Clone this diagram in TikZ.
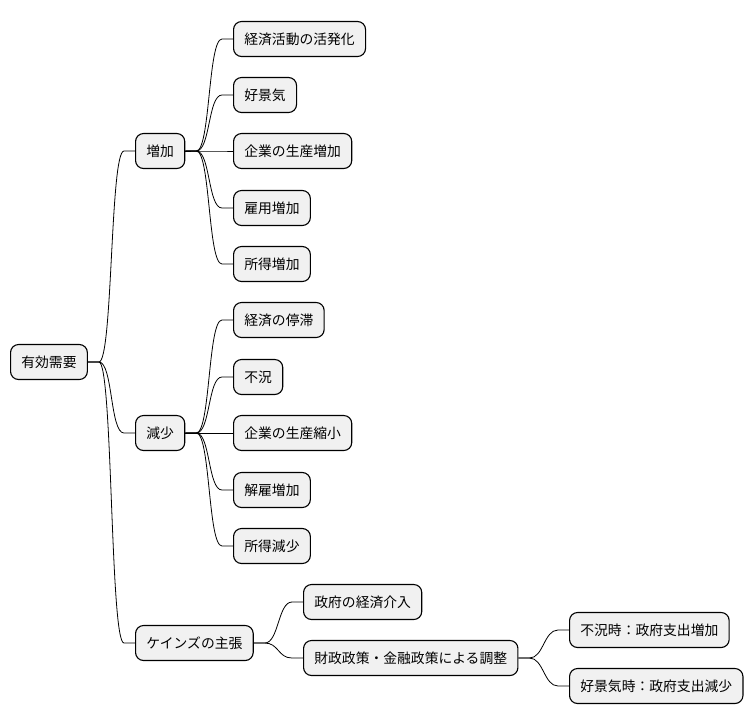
\documentclass[tikz,border=0pt]{standalone}
\usepackage{fontspec}
\setmainfont{Noto Sans CJK JP}
\usetikzlibrary{calc}
\definecolor{nodefill}{HTML}{F1F1F1}
\tikzset{
  mm/.style={draw=black, line width=1.1pt, fill=nodefill, rounded corners=8pt,
    anchor=west, minimum height=35pt, inner xsep=10.8pt, inner ysep=0pt,
    font=\fontsize{13.8pt}{16pt}\selectfont},
  link/.style={draw=black, line width=0.8pt}
}
\newcommand\mmlink[2]{\path[link] (#1.east) -- ++(11,0) .. controls +(14,0) and +(-14,0) .. ($(#2.west)+(-11,0)$) -- (#2.west);}
\begin{document}
\begin{tikzpicture}[x=1pt,y=-1pt]
\useasboundingbox (0,0) rectangle (754,724);
\node[mm] (root) at (10,362) {有効需要};
\node[mm] (inc) at (135,151) {増加};
\node[mm] (dec) at (135,433) {減少};
\node[mm] (key) at (135,643) {ケインズの主張};
\node[mm] (i1) at (233,39) {経済活動の活発化};
\node[mm] (i2) at (233,95) {好景気};
\node[mm] (i3) at (233,151) {企業の生産増加};
\node[mm] (i4) at (233,208) {雇用増加};
\node[mm] (i5) at (233,264) {所得増加};
\node[mm] (d1) at (233,320) {経済の停滞};
\node[mm] (d2) at (233,377) {不況};
\node[mm] (d3) at (233,433) {企業の生産縮小};
\node[mm] (d4) at (233,490) {解雇増加};
\node[mm] (d5) at (233,546) {所得減少};
\node[mm] (k1) at (303,602) {政府の経済介入};
\node[mm] (k2) at (303,658) {財政政策・金融政策による調整};
\node[mm] (f1) at (569,630) {不況時：政府支出増加};
\node[mm] (f2) at (569,686) {好景気時：政府支出減少};
\mmlink{root}{inc}
\mmlink{root}{dec}
\mmlink{root}{key}
\mmlink{inc}{i1}
\mmlink{inc}{i2}
\mmlink{inc}{i3}
\mmlink{inc}{i4}
\mmlink{inc}{i5}
\mmlink{dec}{d1}
\mmlink{dec}{d2}
\mmlink{dec}{d3}
\mmlink{dec}{d4}
\mmlink{dec}{d5}
\mmlink{key}{k1}
\mmlink{key}{k2}
\mmlink{k2}{f1}
\mmlink{k2}{f2}
\end{tikzpicture}
\end{document}
